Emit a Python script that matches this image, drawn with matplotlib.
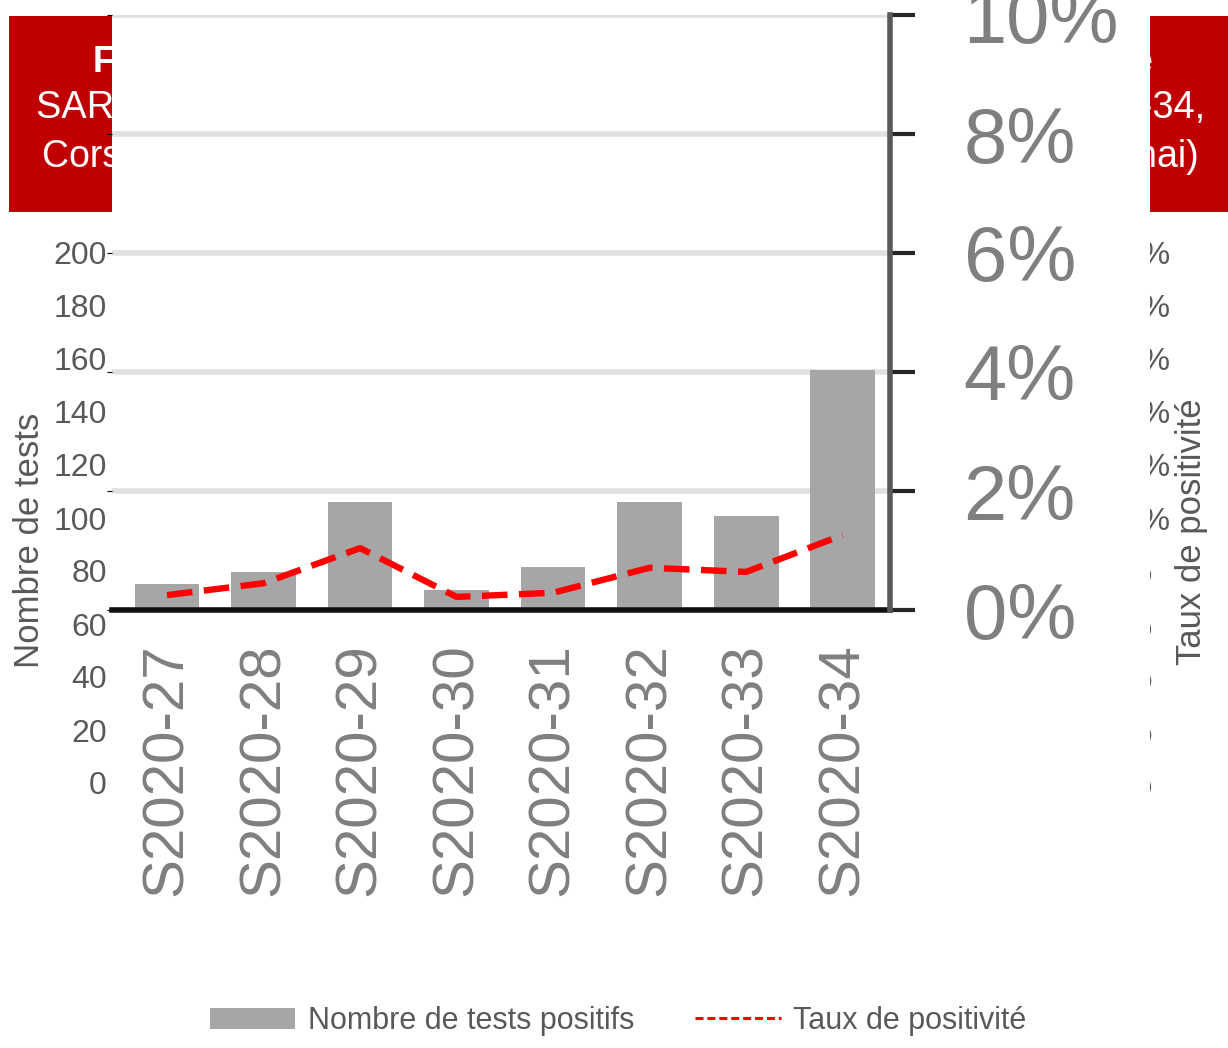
import matplotlib.pyplot as plt
from matplotlib.patches import Rectangle, Patch
from matplotlib.lines import Line2D
from matplotlib.ticker import PercentFormatter

# Données
semaines = ['S2020-27', 'S2020-28', 'S2020-29', 'S2020-30',
            'S2020-31', 'S2020-32', 'S2020-33', 'S2020-34']
tests_positifs = [2.2, 3.2, 9.1, 1.7, 3.6, 9.1, 7.9, 20.2]
taux_positivite = [0.25, 0.45, 1.04, 0.22, 0.29, 0.71, 0.64, 1.26]

# graphique d'arrière-plan (axes gauche / droite)
fond_ticks = [0, 20, 40, 60, 80, 100, 120, 140, 160, 180, 200]
fond_taux_ticks = [0, 2, 4, 6, 8, 10, 12, 14, 16, 18, 20]

titre_lignes = [
    'Figure 4. Nombre de tests positifs et taux de positivité pour le',
    'SARS-CoV-2 par semaine de prélèvement, de S2020-27 à S2020-34,',
    'Corse (source : SI-DEP, données consolidées, tests depuis le 13 mai)',
]

W, H = 1228, 1048
FONT = 'Liberation Sans'
plt.rcParams['font.family'] = [FONT, 'DejaVu Sans']

fig = plt.figure(figsize=(W / 100, H / 100), dpi=100)
fig.patch.set_facecolor('white')


def fx(px):
    return px / W


def fy(py):
    return 1 - py / H


# --- Arrière-plan ---
ax_bg = fig.add_axes([fx(112), fy(783), fx(986), 530 / H])
ax_bg.set_zorder(0)
ax_bg.patch.set_visible(False)
ax_bg.set_ylim(0, 200)
ax_bg.set_yticks(fond_ticks)
ax_bg.set_xticks([])
for s in ax_bg.spines.values():
    s.set_visible(False)
ax_bg.tick_params(axis='y', length=0, pad=3.6, labelsize=23, labelcolor='#595959')

ax_bg2 = ax_bg.twinx()
ax_bg2.set_zorder(0)
ax_bg2.patch.set_visible(False)
ax_bg2.set_ylim(0, 20)
ax_bg2.set_yticks(fond_taux_ticks)
ax_bg2.yaxis.set_major_formatter(PercentFormatter(decimals=0))
for s in ax_bg2.spines.values():
    s.set_visible(False)
ax_bg2.tick_params(axis='y', length=0, pad=6, labelsize=23, labelcolor='#595959')

fig.text(fx(30), fy(540), 'Nombre de tests', rotation=90, ha='center', va='center',
         fontsize=25, color='#595959')
fig.text(fx(1192), fy(532), 'Taux de positivité', rotation=90, ha='center', va='center',
         fontsize=25, color='#595959')

# Bandeau de titre
fig.add_artist(Rectangle((fx(9), fy(212)), 1 - fx(9), 196 / H, transform=fig.transFigure,
                         facecolor='#c00000', edgecolor='none', zorder=1))
titre_x = [623, 621, 620]
titre_base = [72, 118, 167]
titre_taille = [26, 27.4, 27]
for i, ligne in enumerate(titre_lignes):
    fig.text(fx(titre_x[i]), fy(titre_base[i]), ligne, ha='center', va='baseline',
             fontsize=titre_taille[i], color='white',
             fontweight='bold' if i == 0 else 'normal', zorder=2)

# Cache blanc du graphique de premier plan
fig.add_artist(Rectangle((fx(112), 0), fx(1150 - 112), 1, transform=fig.transFigure,
                         facecolor='white', edgecolor='none', zorder=3.5))

# --- Premier plan ---
ax = fig.add_axes([fx(112), fy(610), fx(778), 595 / H])
ax.set_zorder(5)
x = range(len(semaines))
ax.bar(x, tests_positifs, width=0.67, color='#a6a6a6', zorder=2)
ax.set_xlim(-0.57, 7.49)
ax.set_ylim(0, 50)
ax.set_yticks([0, 10, 20, 30, 40, 50])
ax.yaxis.grid(True, color='#e0e0e0', linewidth=4)
ax.set_axisbelow(True)
ax.tick_params(axis='y', left=False, labelleft=False)
ax.set_xticks(list(x))
ax.set_xticklabels(semaines, rotation=90, fontsize=42, color='#7f7f7f')
ax.tick_params(axis='x', length=0, pad=24)
for side in ['top', 'left', 'right']:
    ax.spines[side].set_visible(False)
ax.spines['bottom'].set_color('#111111')
ax.spines['bottom'].set_linewidth(4)

ax2 = ax.twinx()
ax2.set_zorder(6)
ax2.patch.set_visible(False)
ax2.plot(x, taux_positivite, color='#ff0000', linewidth=4.6, linestyle=(0, (4.0, 1.8)))
ax2.set_ylim(0, 10)
ax2.set_yticks([0, 2, 4, 6, 8, 10])
ax2.yaxis.set_major_formatter(PercentFormatter(decimals=0))
ax2.tick_params(axis='y', direction='out', length=18, width=3, color='#262626',
                pad=35, labelsize=56, labelcolor='#7f7f7f')
for side in ['top', 'left', 'bottom']:
    ax2.spines[side].set_visible(False)
ax2.spines['right'].set_color('#595959')
ax2.spines['right'].set_linewidth(4)

# Légende
handles = [Patch(facecolor='#a6a6a6', edgecolor='none'),
           Line2D([0], [0], color='#ff0000', linewidth=2.2, linestyle=(0, (2.6, 1.3)))]
fig.legend(handles, ['Nombre de tests positifs', 'Taux de positivité'],
           loc='center', bbox_to_anchor=(fx(618), fy(1021)), ncol=2, frameon=False,
           fontsize=22, labelcolor='#595959', handlelength=2.8, handletextpad=0.4,
           columnspacing=2.0)

fig.savefig('out.png', dpi=100)
